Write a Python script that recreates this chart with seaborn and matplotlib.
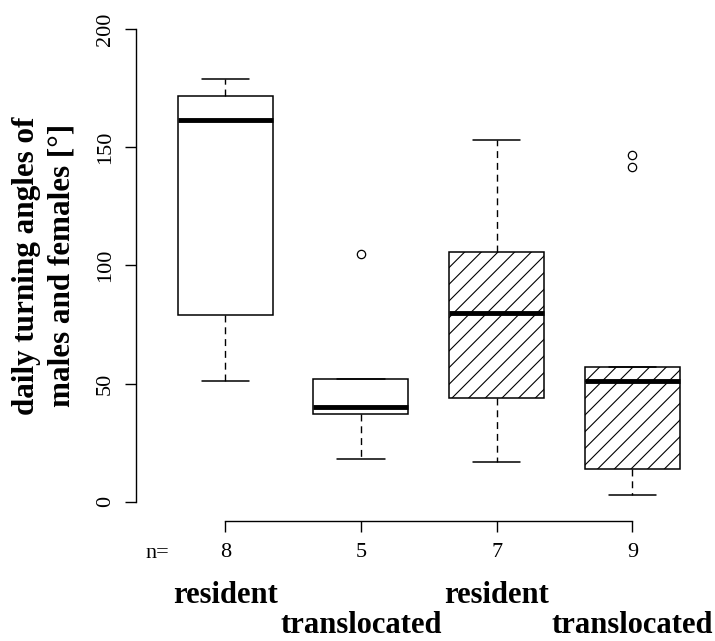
"""Boxplot of daily turning angles for resident and translocated animals."""
import matplotlib
matplotlib.use("Agg")
import matplotlib.pyplot as plt
import matplotlib.transforms as mtransforms
import pandas as pd
import seaborn as sns

# groups in plotting order (white = males, hatched = females)
groups = ["resident males", "translocated males", "resident females", "translocated females"]
group_labels = ["resident", "translocated", "resident", "translocated"]
hatched = [False, False, True, True]

# daily turning angles [deg] per animal
resident_males = [51, 76, 80, 160, 163, 171, 174, 179]
translocated_males = [18, 37, 40, 52, 105]
resident_females = [17, 40, 48, 80, 100, 111, 153]
translocated_females = [3, 9, 14, 30, 51, 54, 57, 141.5, 146.5]

y_ticks = [0, 50, 100, 150, 200]

values = [resident_males, translocated_males, resident_females, translocated_females]
df = pd.DataFrame({
    "group": [g for g, vals in zip(groups, values) for _ in vals],
    "angle": [v for vals in values for v in vals],
})

sns.set_style("ticks", rc={
    "axes.edgecolor": "black",
    "xtick.color": "black",
    "ytick.color": "black",
    "text.color": "black",
    "axes.labelcolor": "black",
})
plt.rcParams["font.family"] = ["Liberation Serif", "DejaVu Serif"]
plt.rcParams["hatch.linewidth"] = 0.8
plt.rcParams["hatch.color"] = "black"

W, H = 715, 641
fig = plt.figure(figsize=(W / 100, H / 100), dpi=100)
left, bottom, top = 135.7, 520.7, 10.1
ax = fig.add_axes([left / W, (H - bottom) / H, (W - left) / W, (bottom - top) / H])

sns.boxplot(
    data=df, x="group", y="angle", order=groups, ax=ax,
    width=0.7, color="white", linecolor="black", linewidth=1.1, saturation=1,
    whiskerprops={"linestyle": (0, (5, 3.5)), "linewidth": 1.0},
    capprops={"linewidth": 1.1},
    medianprops={"linewidth": 3.5},
    flierprops={"marker": "o", "markerfacecolor": "none", "markeredgecolor": "black",
                "markersize": 6, "markeredgewidth": 0.9},
)
for patch, h in zip(ax.patches, hatched):
    if h:
        patch.set_hatch("//")

ax.set_xlim(-0.66, 3.609)
ax.set_ylim(-8, 208)

sns.despine(ax=ax)
ax.spines["left"].set_bounds(0, 200)
ax.spines["bottom"].set_bounds(0, len(groups) - 1)
ax.spines["left"].set_linewidth(1)
ax.spines["bottom"].set_linewidth(1)

ax.set_yticks(y_ticks)
ax.set_yticklabels([str(t) for t in y_ticks], rotation=90, va="center")
ax.set_xticks(range(len(groups)))
ax.set_xticklabels([str(len(v)) for v in values])
ax.tick_params(axis="both", direction="out", length=8, width=1, labelsize=16)
ax.tick_params(axis="y", pad=7)
ax.tick_params(axis="x", pad=8)
ax.set_xlabel("")

ax.set_ylabel("daily turning angles of\nmales and females [°]",
              fontsize=22.4, fontweight="bold", linespacing=1.3)
ax.yaxis.set_label_coords(-0.1574, 0.5)
ax.yaxis.label.set_va("center")

trans = mtransforms.blended_transform_factory(ax.transData, fig.transFigure)
ax.text(-0.5, (H - 558) / H, "n=", transform=trans, ha="center", va="baseline", fontsize=16)
for i, lab in enumerate(group_labels):
    base = 603 if i % 2 == 0 else 633
    ax.text(i, (H - base) / H, lab, transform=trans, ha="center", va="baseline",
            fontsize=22, fontweight="bold")

fig.savefig("out.png", dpi=100)
plt.close(fig)
